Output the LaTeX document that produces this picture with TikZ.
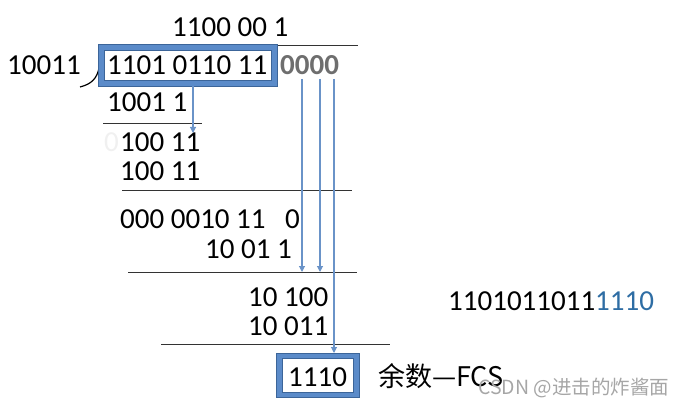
\documentclass[tikz,border=0pt]{standalone}
\usepackage{fontspec}
\setmainfont{Carlito}
\newfontfamily\cjk{Noto Sans CJK SC}
\usetikzlibrary{arrows.meta}
\definecolor{frameblue}{HTML}{5B8BC9}
\definecolor{edgeblue}{HTML}{3C6599}
\definecolor{arrowblue}{HTML}{6A93C8}
\definecolor{textblue}{HTML}{2E6DA4}
\definecolor{zerogray}{HTML}{6E6E6E}
\begin{document}
\begin{tikzpicture}[x=1pt,y=-1pt,
  num/.style={anchor=base west,inner sep=0pt,font=\fontsize{29}{34}\selectfont},
  rule/.style={draw=black!80,line width=0.8pt},
  conn/.style={draw=arrowblue,line width=1.1pt,-{Triangle[width=6pt,length=6pt]}},
  plain/.style={draw=arrowblue,line width=1.1pt}]
\useasboundingbox (0,0) rectangle (683,409);
% top quotient
\node[num] (q) at (172,37) {1100 00 1};
\draw[rule] (100,45) -- (358,45);
% divisor and bracket
\node[num] (dvs) at (7,75) {10011};
\draw[line width=1.2pt] (80,87) .. controls (92,84) and (97,78) .. (99,68);
% dividend box
\draw[fill=frameblue,draw=edgeblue,line width=0.6pt] (98,44) rectangle (277,86);
\draw[fill=white,draw=edgeblue,line width=0.6pt] (104,50) rectangle (271,80);
\node[num] (dvd) at (107,75) {1101 0110 11};
\node[num,text=zerogray,font=\fontsize{29}{34}\selectfont\bfseries] (zeros) at (280,75) {0000};
% step 1
\node[num] (s1) at (107,112) {1001 1};
\draw[rule] (103,123) -- (202,123);
\node[num,text=black!6] (ghost) at (104,152) {0};
\node[num] (r1) at (120,152) {100 11};
\node[num] (s2) at (120,181) {100 11};
\draw[rule] (122,190) -- (352,190);
\node[num] (r2) at (120,228) {000 0010 11};
\node[num] (r2b) at (285,228) {0};
\node[num] (s3) at (205,258) {10 01 1};
\draw[rule] (128,272) -- (357,272);
\node[num] (r3) at (248,306) {10 100};
\node[num] (s4) at (248,335) {10 011};
\draw[rule] (161,344) -- (390,344);
% result box
\draw[fill=frameblue,draw=edgeblue,line width=0.6pt] (276,353) rectangle (359,397);
\draw[fill=white,draw=edgeblue,line width=0.6pt] (282,358) rectangle (353,392);
\node[num] (fcs) at (288,386) {1110};
\node[anchor=west,inner sep=0pt,font=\cjk\fontsize{27}{32}\selectfont] (lbl) at (378,376) {余数—FCS};
% transmitted frame
\node[num] (frame) at (448,310) {1101011011\textcolor{textblue}{1110}};
% watermark
\node[anchor=west,inner sep=0pt,text=black!35,font=\cjk\fontsize{19.5}{23}\selectfont] (wm) at (478,388) {CSDN @进击的炸酱面};
% connectors
\coordinate (a0) at (193,86);
\coordinate (a1) at (193,133);
\draw[conn] (a0) -- (a1);
\coordinate (b0) at (302,79);
\coordinate (b1) at (302,272);
\coordinate (c0) at (320,79);
\coordinate (c1) at (320,272);
\coordinate (d0) at (334,79);
\coordinate (d1) at (334,353);
\draw[conn] (b0) -- (b1);
\draw[conn] (c0) -- (c1);
\draw[conn] (d0) -- (d1);
\end{tikzpicture}
\end{document}
